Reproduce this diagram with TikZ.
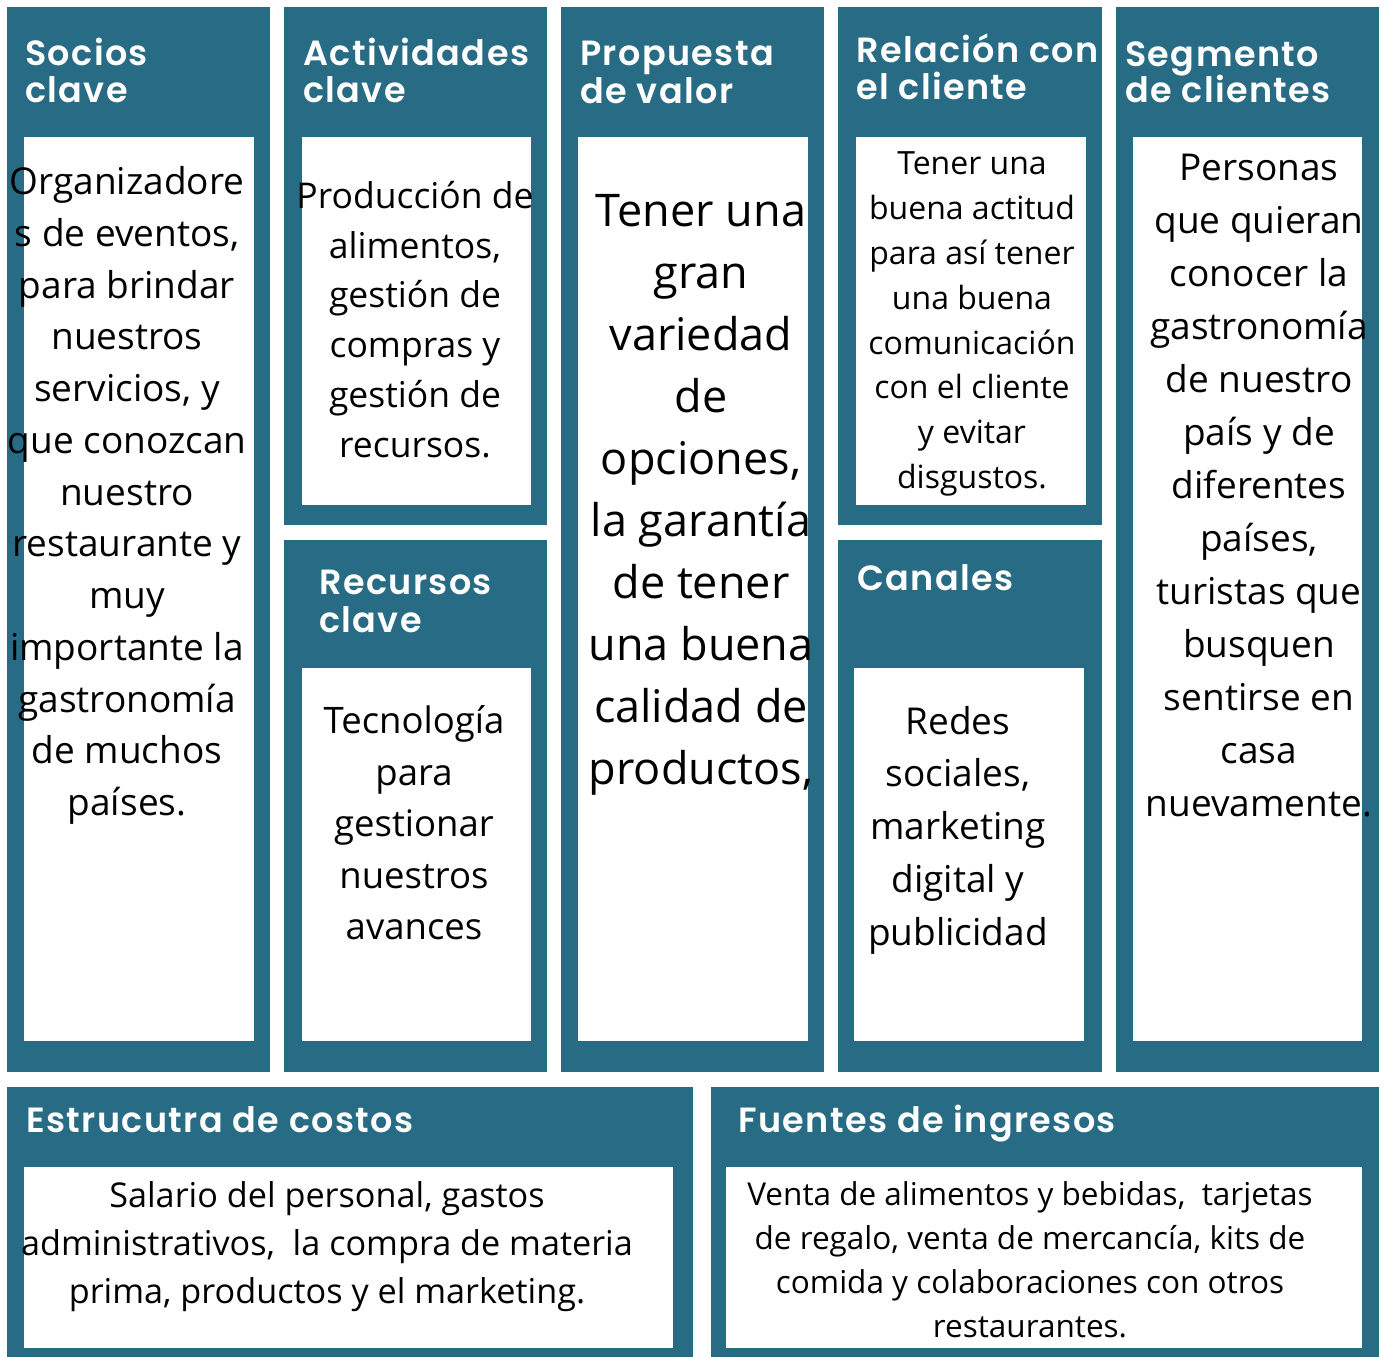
\documentclass[tikz,border=0pt]{standalone}
\usepackage{fontspec}
\setmainfont{Open Sans}
\newfontfamily\titlefont{Poppins SemiBold}[LetterSpace=4]
\definecolor{teal1}{HTML}{286B84}
\begin{document}
\begin{tikzpicture}[x=1pt,y=-1pt,
  panel/.style={fill=teal1, inner sep=0pt, outer sep=0pt, anchor=north west},
  inbox/.style={fill=white, inner sep=0pt, outer sep=0pt, anchor=north west},
  ttl/.style={text=white, font=\titlefont\fontsize{35}{38}\selectfont, anchor=base west, inner sep=0pt},
  body/.style={text=black, align=center, inner sep=0pt}]
\path[use as bounding box, fill=white] (0,0) rectangle (1387,1357);
% panels
\node[panel, minimum width=263pt, minimum height=1065pt] (p1) at (7,7) {};
\node[panel, minimum width=263pt, minimum height=518pt] (p2a) at (284,7) {};
\node[panel, minimum width=263pt, minimum height=532pt] (p2b) at (284,540) {};
\node[panel, minimum width=263pt, minimum height=1065pt] (p3) at (561,7) {};
\node[panel, minimum width=264pt, minimum height=518pt] (p4a) at (838,7) {};
\node[panel, minimum width=264pt, minimum height=532pt] (p4b) at (838,540) {};
\node[panel, minimum width=263pt, minimum height=1065pt] (p5) at (1116,7) {};
\node[panel, minimum width=686pt, minimum height=270pt] (p6) at (7,1087) {};
\node[panel, minimum width=668pt, minimum height=270pt] (p7) at (711,1087) {};
% inner boxes
\node[inbox, minimum width=230pt, minimum height=904pt] (i1) at (24,137) {};
\node[inbox, minimum width=229pt, minimum height=368pt] (i2a) at (302,137) {};
\node[inbox, minimum width=229pt, minimum height=373pt] (i2b) at (302,668) {};
\node[inbox, minimum width=230pt, minimum height=904pt] (i3) at (578,137) {};
\node[inbox, minimum width=230pt, minimum height=368pt] (i4a) at (856,137) {};
\node[inbox, minimum width=230pt, minimum height=373pt] (i4b) at (854,668) {};
\node[inbox, minimum width=229pt, minimum height=904pt] (i5) at (1133,137) {};
\node[inbox, minimum width=649pt, minimum height=181pt] (i6) at (24,1167) {};
\node[inbox, minimum width=636pt, minimum height=181pt] (i7) at (726,1167) {};
% titles
\node[ttl] (t1a) at (25,65) {Socios};
\node[ttl] (t1b) at (25,102) {clave};
\node[ttl] (t2a) at (303,65) {Actividades};
\node[ttl] (t2b) at (303,102) {clave};
\node[ttl] (t3a) at (580,65) {Propuesta};
\node[ttl] (t3b) at (580,103) {de valor};
\node[ttl] (t4a) at (856,62) {Relación con};
\node[ttl] (t4b) at (856,99) {el cliente};
\node[ttl] (t5a) at (1125,66) {Segmento};
\node[ttl] (t5b) at (1125,102) {de clientes};
\node[ttl] (t6a) at (319,594) {Recursos};
\node[ttl] (t6b) at (319,632) {clave};
\node[ttl] (t7) at (857,590) {Canales};
\node[ttl] (t8) at (26,1132) {Estrucutra de costos};
\node[ttl] (t9) at (738,1132) {Fuentes de ingresos};
% body texts
\node[body, font=\fontsize{37}{51.75}\selectfont] (b1) at (127,495.5) {Organizadore\\s de eventos,\\para brindar\\nuestros\\servicios, y\\que conozcan\\nuestro\\restaurante y\\muy\\importante la\\gastronomía\\de muchos\\países.};
\node[body, font=\fontsize{35.5}{49.8}\selectfont] (b2) at (415,319.5) {Producción de\\alimentos,\\gestión de\\compras y\\gestión de\\recursos.};
\node[body, font=\fontsize{36.5}{51.5}\selectfont] (b3) at (414,823) {Tecnología\\para\\gestionar\\nuestros\\avances};
\node[body, font=\fontsize{45}{62}\selectfont] (b4) at (701,494.5) {Tener una\\gran\\variedad\\de\\opciones,\\la garantía\\de tener\\una buena\\calidad de\\productos,};
\node[body, font=\fontsize{32}{44.9}\selectfont] (b5) at (972,324) {Tener una\\buena actitud\\para así tener\\una buena\\comunicación\\con el cliente\\y evitar\\disgustos.};
\node[body, font=\fontsize{37}{52.75}\selectfont] (b6) at (958,830) {Redes\\sociales,\\marketing\\digital y\\publicidad};
\node[body, font=\fontsize{37}{53}\selectfont] (b7) at (1259,486) {Personas\\que quieran\\conocer la\\gastronomía\\de nuestro\\país y de\\diferentes\\países,\\turistas que\\busquen\\sentirse en\\casa\\nuevamente.};
\node[body, font=\fontsize{34.2}{48}\selectfont] (b8) at (327,1247) {Salario del personal, gastos\\administrativos,\ \ la compra de materia\\prima, productos y el marketing.};
\node[body, font=\fontsize{31.5}{44}\selectfont] (b9) at (1030,1260) {Venta de alimentos y bebidas,\ \ tarjetas\\de regalo, venta de mercancía, kits de\\comida y colaboraciones con otros\\restaurantes.};
\end{tikzpicture}
\end{document}
